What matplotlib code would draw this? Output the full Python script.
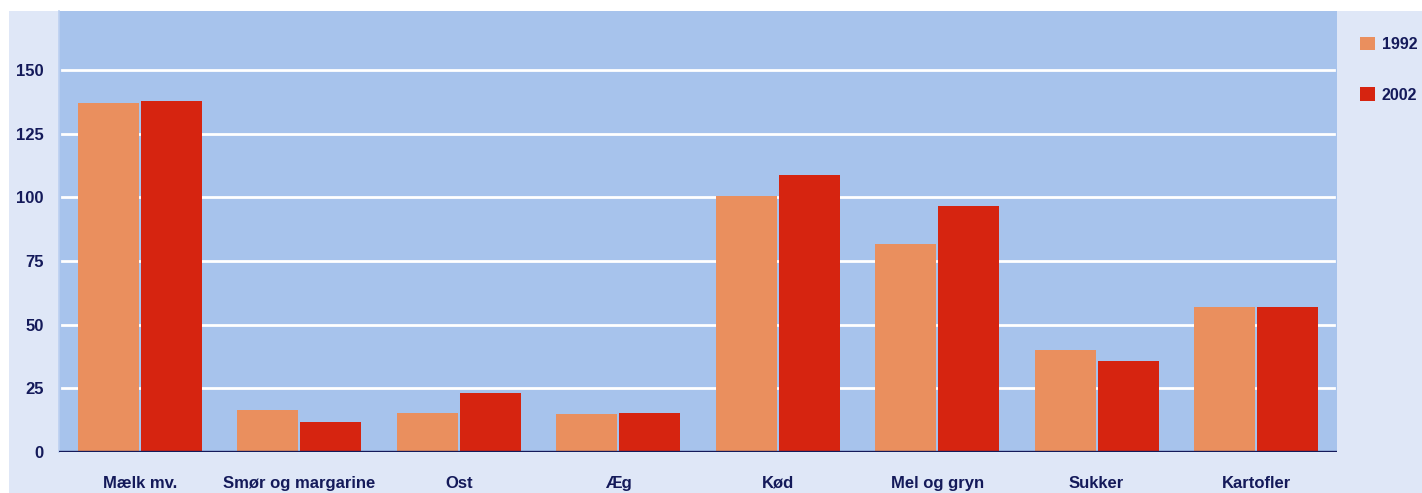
import matplotlib
matplotlib.use("Agg")
import matplotlib.pyplot as plt
import matplotlib.patches as patches
import numpy as np

# Data
categories = ["Mælk mv.", "Smør og margarine", "Ost", "Æg", "Kød",
              "Mel og gryn", "Sukker", "Kartofler"]
values_1992 = [137, 16.5, 15.3, 15, 100.5, 81.7, 40, 57]
values_2002 = [138, 11.8, 23.2, 15.3, 108.8, 96.6, 35.7, 57]
series_labels = ["1992", "2002"]
yticks = [0, 25, 50, 75, 100, 125, 150]

ORANGE = "#ea8f5e"
RED = "#d62410"
PLOT_BG = "#a7c3ec"
OUTER_BG = "#dfe7f7"
NAVY = "#141a5a"

plt.rcParams['font.family'] = ['Liberation Sans', 'DejaVu Sans']

W, H = 1422, 493
fig = plt.figure(figsize=(W / 100, H / 100), dpi=100)

# light outer panel behind everything
fig.patches.append(patches.Rectangle((9 / W, 0), 1 - 9 / W, 1 - 11 / H,
                                     transform=fig.transFigure,
                                     facecolor=OUTER_BG, edgecolor='none', zorder=-10))

ax = fig.add_axes([59 / W, 41 / H, (1337 - 59) / W, (452 - 11) / H])
ax.set_zorder(1)
ax.set_facecolor(PLOT_BG)

x = np.arange(len(categories))
bw = 0.383
gap = 0.006
b1 = ax.bar(x - bw / 2 - gap, values_1992, bw, color=ORANGE, zorder=3, label=series_labels[0])
b2 = ax.bar(x + bw / 2 + gap, values_2002, bw, color=RED, zorder=3, label=series_labels[1])

ax.set_xlim(-0.508, len(categories) - 1 + 0.508)
ax.set_ylim(0, 173.2)

for yv in yticks[1:]:
    ax.axhline(yv, xmin=0.002, xmax=0.998, color='white', lw=2, zorder=2)
ax.axhline(0, color=NAVY, lw=2.4, zorder=4)

ax.set_yticks(yticks)
ax.set_yticklabels([str(t) for t in yticks])
ax.set_xticks(x)
ax.set_xticklabels(categories)
ax.tick_params(axis='y', length=0, pad=11, labelsize=12, labelcolor=NAVY)
ax.tick_params(axis='x', length=0, pad=17, labelsize=12, labelcolor=NAVY)
for lbl in ax.get_xticklabels() + ax.get_yticklabels():
    lbl.set_fontweight('bold')

for s in ax.spines.values():
    s.set_visible(False)
ax.spines['left'].set_visible(True)
ax.spines['left'].set_color("#bcd0f0")
ax.spines['left'].set_linewidth(1.2)

leg = fig.legend(handles=[b1, b2], labels=series_labels,
                 loc='upper left', bbox_to_anchor=(1349 / W, 1 - 26 / H),
                 frameon=False, handlelength=0.9, handleheight=0.9,
                 handletextpad=0.45, labelspacing=2.2, borderpad=0.2,
                 prop={'weight': 'bold', 'size': 11.5})
for t in leg.get_texts():
    t.set_color(NAVY)

fig.savefig("out.png", dpi=100)
